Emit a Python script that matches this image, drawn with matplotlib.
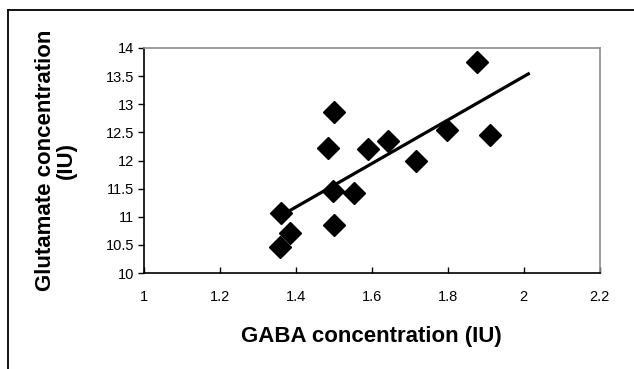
import numpy as np
import matplotlib
matplotlib.use("Agg")
import matplotlib.pyplot as plt
from matplotlib.lines import Line2D

plt.rcParams["font.family"] = ["Liberation Sans", "DejaVu Sans"]

# GABA vs glutamate (IU)
gaba = [1.358, 1.384, 1.362, 1.500, 1.484, 1.498, 1.500,
        1.553, 1.590, 1.643, 1.715, 1.798, 1.877, 1.912]
glutamate = [10.47, 10.71, 11.07, 12.87, 12.23, 11.46, 10.85,
             11.42, 12.20, 12.35, 11.99, 12.55, 13.75, 12.45]
FORWARD = 0.1  # trendline forecast past the last point

XTICKS = [1, 1.2, 1.4, 1.6, 1.8, 2, 2.2]
YTICKS = [10, 10.5, 11, 11.5, 12, 12.5, 13, 13.5, 14]

fig = plt.figure(figsize=(6.34, 3.69), dpi=100)
ax = fig.add_axes([0.227, 0.260, 0.719, 0.610])

ax.plot(gaba, glutamate, linestyle="none", marker="D", markersize=11,
        color="black", zorder=3)

# linear trendline
slope, icpt = np.polyfit(gaba, glutamate, 1)
xl = np.array([min(gaba), max(gaba) + FORWARD])
ax.plot(xl, slope * xl + icpt, color="black", linewidth=2.3, zorder=2)

ax.set_xlim(1, 2.2)
ax.set_ylim(10, 14)
ax.set_xticks(XTICKS)
ax.set_xticklabels(["1", "1.2", "1.4", "1.6", "1.8", "2", "2.2"])
ax.set_yticks(YTICKS)
ax.set_yticklabels(["10", "10.5", "11", "11.5", "12", "12.5", "13", "13.5", "14"])
ax.tick_params(axis="x", direction="in", length=4, pad=12, labelsize=10.5, width=1)
ax.tick_params(axis="y", direction="out", length=4, pad=3, labelsize=10.5, width=1)

for s in ["left", "bottom"]:
    ax.spines[s].set_color("black")
    ax.spines[s].set_linewidth(1.2)
for s in ["top", "right"]:
    ax.spines[s].set_color("#8c8c8c")
    ax.spines[s].set_linewidth(1.2)

ax.set_xlabel("GABA concentration (IU)", fontsize=16, fontweight="bold", labelpad=16)
ax.set_ylabel("Glutamate concentration\n(IU)", fontsize=16, fontweight="bold",
              labelpad=21, linespacing=1.0)

# outer chart-area frame (cut off at right and bottom)
fig.add_artist(Line2D([0.0126, 1.0], [0.973, 0.973], transform=fig.transFigure,
                      color="black", linewidth=1.3))
fig.add_artist(Line2D([0.0126, 0.0126], [0.0, 0.973], transform=fig.transFigure,
                      color="black", linewidth=1.3))

fig.savefig("out.png", dpi=100)
